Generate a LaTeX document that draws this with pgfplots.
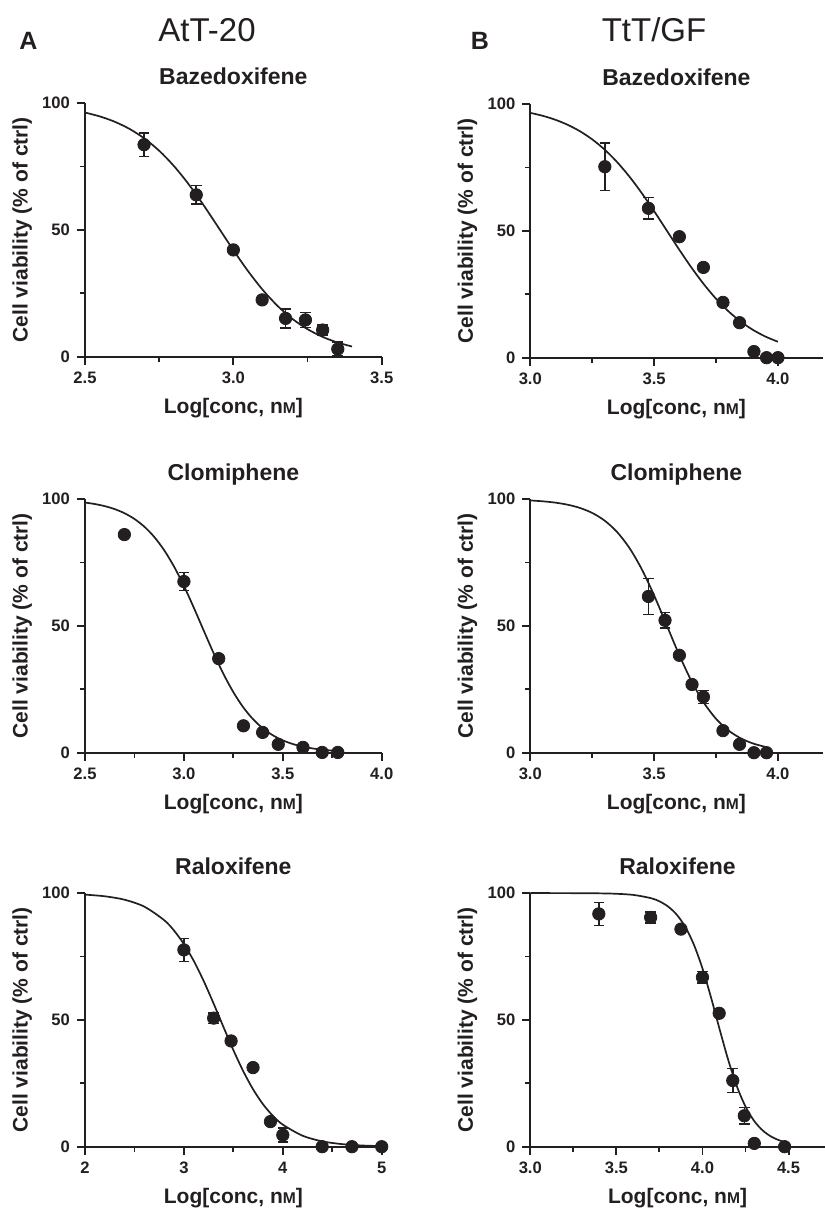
\documentclass[border=0pt]{standalone}
\usepackage{pgfplots}
\pgfplotsset{compat=1.18}
\usepackage{fontspec}
\setmainfont{Liberation Sans}
\definecolor{ink}{HTML}{231F20}
\pgfplotsset{
  panel/.style={
    scale only axis, height=126.8pt,
    axis lines=left, axis line style={-, line width=0.95pt, ink},
    ymin=0, ymax=100, ytick={0,50,100}, yticklabels={0,50,100}, minor ytick={25,75},
    tick align=outside, major tick length=4pt, minor tick length=2.5pt,
    every tick/.style={line width=0.95pt, ink},
    clip=false,
    tick label style={font=\fontsize{8.3pt}{9pt}\selectfont\bfseries, text=ink},
    title style={at={(axis description cs:0.5,1)}, anchor=base, yshift=3.5pt,
      font=\fontsize{11.5pt}{13pt}\selectfont\bfseries, text=ink},
    xlabel={Log[conc, n{\fontsize{7.8pt}{8pt}\selectfont M}]},
    ylabel={Cell viability (\% of ctrl)},
    label style={font=\fontsize{10.5pt}{12pt}\selectfont\bfseries, text=ink},
    xlabel style={at={([yshift=-28.3pt]axis description cs:0.5,0)}, anchor=base},
    ylabel style={at={([xshift=-28.7pt]axis description cs:0,0.5)}, anchor=base},
  },
  curve/.style={ink, line width=0.85pt, smooth, no markers},
  pts/.style={only marks, mark=*, mark size=3.1pt, ink,
    error bars/.cd, y dir=both, y explicit,
    error bar style={line width=0.8pt, ink},
    error mark options={rotate=90, mark size=2.65pt, line width=0.8pt, ink}},
}
\begin{document}
\begin{tikzpicture}
\path[use as bounding box] (0,0) rectangle (412pt,604pt);
\node[anchor=base, font=\fontsize{12.5pt}{14pt}\selectfont\bfseries, text=ink] at (14.25pt,579pt) {A};
\node[anchor=base, font=\fontsize{16.5pt}{18pt}\selectfont, text=ink] at (103.5pt,583pt) {AtT-20};
\node[anchor=base, font=\fontsize{12.5pt}{14pt}\selectfont\bfseries, text=ink] at (240pt,579pt) {B};
\node[anchor=base, font=\fontsize{16.5pt}{18pt}\selectfont, text=ink] at (327pt,583pt) {TtT/GF};

% Top left
\begin{axis}[panel, at={(42.5pt,425.65pt)}, anchor=south west, width=148.35pt,
  xmin=2.5, xmax=3.5, xtick={2.5,3,3.5}, xticklabels={2.5,3.0,3.5}, minor xtick={2.75,3.25},
  title={Bazedoxifene}]
\addplot[curve] coordinates {(2.50,96.26) (2.55,94.74) (2.60,92.65) (2.65,89.82) (2.70,86.06) (2.75,81.21) (2.80,75.15) (2.85,67.91) (2.90,59.69) (2.95,50.89) (3.00,42.03) (3.05,33.67) (3.10,26.21) (3.15,19.91) (3.20,14.82) (3.25,10.85) (3.30,7.85) (3.35,5.63) (3.40,4.01)};
\addplot[pts] table[x=x, y=y, y error=e] {
x y e
2.699 83.6 4.6
2.875 63.8 3.7
3.000 42.1 0
3.097 22.4 0
3.176 15.1 3.7
3.243 14.5 3.0
3.301 10.5 2.0
3.352 3.0 2.7
};
\end{axis}

% Top right
\begin{axis}[panel, at={(265.15pt,425.15pt)}, anchor=south west, width=146.1pt,
  xmin=3, xmax=4.18, xtick={3,3.5,4}, xticklabels={3.0,3.5,4.0}, minor xtick={3.25,3.75},
  title={Bazedoxifene}]
\addplot[curve] coordinates {(3.00,96.54) (3.05,95.38) (3.10,93.86) (3.15,91.87) (3.20,89.32) (3.25,86.08) (3.30,82.06) (3.35,77.18) (3.40,71.44) (3.45,64.91) (3.50,57.78) (3.55,50.30) (3.60,42.81) (3.65,35.64) (3.70,29.05) (3.75,23.25) (3.80,18.30) (3.85,14.21) (3.90,10.91) (3.95,8.31) (4.00,6.28)};
\addplot[pts] table[x=x, y=y, y error=e] {
x y e
3.301 75.3 9.4
3.477 58.9 4.3
3.602 47.7 0
3.699 35.6 0
3.778 21.8 0
3.845 13.8 0
3.903 2.4 0
3.954 0.0 0
4.000 0.0 0
};
\end{axis}

% Middle left
\begin{axis}[panel, at={(42.5pt,227.65pt)}, anchor=south west, width=148.35pt,
  xmin=2.5, xmax=4, xtick={2.5,3,3.5,4}, xticklabels={2.5,3.0,3.5,4.0}, minor xtick={2.75,3.25,3.75},
  title={Clomiphene}]
\addplot[curve] coordinates {(2.50,98.63) (2.55,98.05) (2.60,97.22) (2.65,96.05) (2.70,94.42) (2.75,92.17) (2.80,89.12) (2.85,85.08) (2.90,79.87) (2.95,73.41) (3.00,65.76) (3.05,57.20) (3.10,48.19) (3.15,39.29) (3.20,31.05) (3.25,23.86) (3.30,17.90) (3.35,13.17) (3.40,9.55) (3.45,6.84) (3.50,4.86) (3.55,3.43) (3.60,2.41) (3.65,1.69) (3.70,1.18) (3.75,0.83) (3.78,0.67)};
\addplot[pts] table[x=x, y=y, y error=e] {
x y e
2.699 86.0 0
3.000 67.5 3.5
3.176 37.1 0
3.301 10.6 0
3.398 8.0 0
3.477 3.3 0
3.602 2.1 0
3.699 0.1 0
3.778 0.1 0
};
\end{axis}

% Middle right
\begin{axis}[panel, at={(265.15pt,227.65pt)}, anchor=south west, width=146.1pt,
  xmin=3, xmax=4.18, xtick={3,3.5,4}, xticklabels={3.0,3.5,4.0}, minor xtick={3.25,3.75},
  title={Clomiphene}]
\addplot[curve] coordinates {(3.00,99.46) (3.05,99.13) (3.10,98.62) (3.15,97.80) (3.20,96.52) (3.25,94.54) (3.30,91.52) (3.35,87.07) (3.40,80.77) (3.45,72.37) (3.50,62.03) (3.55,50.47) (3.60,38.86) (3.65,28.39) (3.70,19.83) (3.75,13.36) (3.80,8.78) (3.85,5.66) (3.90,3.61) (3.95,2.28)};
\addplot[pts] table[x=x, y=y, y error=e] {
x y e
3.477 61.6 7.1
3.544 52.2 3.1
3.602 38.4 0
3.653 26.9 0
3.699 22.0 2.6
3.778 8.7 0
3.845 3.3 0
3.903 0.0 0
3.954 0.0 0
};
\end{axis}

% Bottom left
\begin{axis}[panel, at={(42.5pt,30.65pt)}, anchor=south west, width=148.35pt,
  xmin=2, xmax=5, xtick={2,3,4,5}, xticklabels={2,3,4,5}, minor xtick={2.5,3.5,4.5},
  title={Raloxifene}]
\addplot[curve] coordinates {(2.0,99.40) (2.2,98.74) (2.4,97.39) (2.6,94.65) (2.8,89.34) (2.9,85.24) (3.0,79.90) (3.1,73.25) (3.2,65.34) (3.3,56.49) (3.4,47.20) (3.5,38.11) (3.6,29.78) (3.7,22.60) (3.8,16.74) (3.9,12.16) (4.0,8.70) (4.2,4.33) (4.4,2.10) (4.6,1.01) (4.8,0.48) (5.0,0.23)};
\addplot[pts] table[x=x, y=y, y error=e] {
x y e
3.000 77.6 4.5
3.301 50.7 2.1
3.477 41.7 0
3.699 31.2 0
3.875 9.9 0
4.000 4.6 2.8
4.398 0.0 0
4.699 0.0 0
5.000 0.0 0
};
\end{axis}

% Bottom right
\begin{axis}[panel, at={(265.15pt,30.65pt)}, anchor=south west, width=147.2pt,
  xmin=3, xmax=4.71, xtick={3,3.5,4,4.5}, xticklabels={3.0,3.5,4.0,4.5}, minor xtick={3.25,3.75,4.25},
  title={Raloxifene}]
\addplot[curve] coordinates {(3.00,100.0) (3.20,99.99) (3.40,99.90) (3.50,99.73) (3.60,99.27) (3.70,98.02) (3.75,96.75) (3.80,94.72) (3.85,91.54) (3.90,86.69) (3.95,79.70) (4.00,70.29) (4.05,58.77) (4.10,46.21) (4.15,34.11) (4.20,23.78) (4.25,15.82) (4.30,10.17) (4.35,6.39) (4.40,3.95) (4.45,2.42) (4.48,1.80)};
\addplot[pts] table[x=x, y=y, y error=e] {
x y e
3.398 91.8 4.5
3.699 90.4 2.1
3.875 85.8 0
4.000 66.8 2.3
4.097 52.6 0
4.176 26.1 4.7
4.243 12.2 3.2
4.301 1.3 0
4.477 0.0 0
};
\end{axis}
\end{tikzpicture}
\end{document}
